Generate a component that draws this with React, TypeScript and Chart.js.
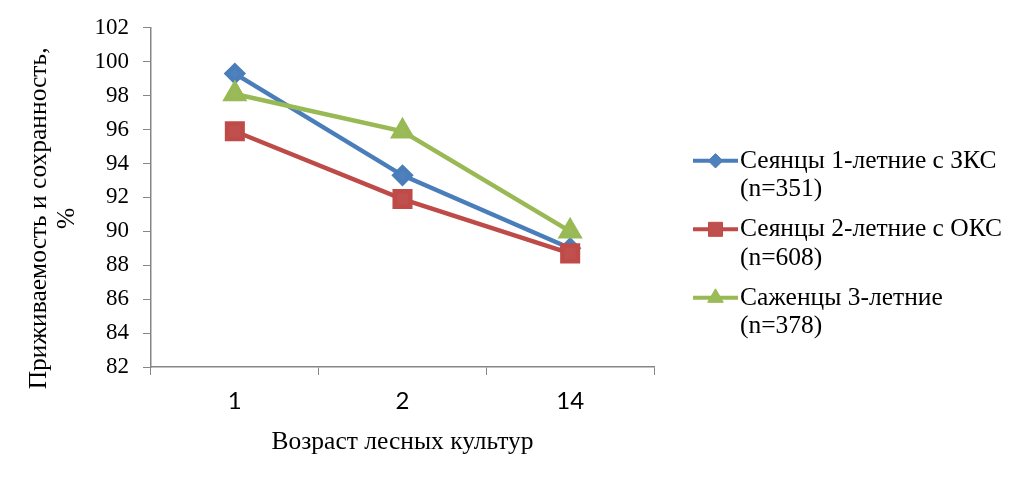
import React, { useEffect, useRef } from "react"
import { Chart, registerables } from "chart.js"
import { drawPoint } from "chart.js/helpers"
import type { Plugin } from "chart.js"

Chart.register(...registerables)

// возраст лесных культур, лет
const ages = ["1", "2", "14"]
// приживаемость и сохранность, %
const seedlings1yClosed = [99.3, 93.3, 89.0]
const seedlings2yOpen = [95.9, 91.9, 88.7]
const saplings3y = [98.1, 95.9, 90.0]

const seriesLabels = [
  ["Сеянцы 1-летние с ЗКС", "(n=351)"],
  ["Сеянцы 2-летние с ОКС", "(n=608)"],
  ["Саженцы 3-летние", "(n=378)"],
]
const yTitle = ["Приживаемость и сохранность,", "%"]
const xTitle = "Возраст лесных культур"

const serif = "'Liberation Serif', 'Times New Roman', serif"
const sans = "Lato, 'Liberation Sans', sans-serif"
const axisGray = "#868686"

// y-axis title sits lower than the plot centre in the original, so it is drawn by hand
const yAxisTitle: Plugin<"line"> = {
  id: "yAxisTitle",
  afterDraw(chart) {
    const { ctx, chartArea } = chart
    const cy = (chartArea.top + chartArea.bottom) / 2 + 21
    ctx.save()
    ctx.fillStyle = "#000"
    ctx.font = `25.5px ${serif}`
    ctx.textAlign = "center"
    ctx.textBaseline = "middle"
    yTitle.forEach((t, i) => {
      ctx.save()
      ctx.translate(chartArea.left - 112 + i * 28, cy)
      ctx.rotate(-Math.PI / 2)
      ctx.fillText(t, 0, 0)
      ctx.restore()
    })
    ctx.restore()
  },
}

const sideLegend: Plugin<"line"> = {
  id: "sideLegend",
  afterDraw(chart) {
    const { ctx, chartArea } = chart
    const x0 = chartArea.right + 39
    const firstRow = chartArea.top + 133
    ctx.save()
    chart.data.datasets.forEach((ds: any, i) => {
      const y = firstRow + i * 68.5
      ctx.strokeStyle = ds.borderColor
      ctx.lineWidth = 4
      ctx.beginPath()
      ctx.moveTo(x0, y)
      ctx.lineTo(x0 + 45, y)
      ctx.stroke()
      ctx.fillStyle = ds.pointBackgroundColor
      ctx.strokeStyle = ds.pointBorderColor
      ctx.lineWidth = 1
      drawPoint(ctx, { pointStyle: ds.pointStyle, rotation: 0, radius: ds.pointRadius * 0.9, borderWidth: 1 }, x0 + 22.5, y)
      ctx.fillStyle = "#000"
      ctx.font = `25.5px ${serif}`
      ctx.textAlign = "left"
      ctx.textBaseline = "middle"
      const lines = seriesLabels[i]
      lines.forEach((t, j) => ctx.fillText(t, x0 + 47, y + j * 28.5))
    })
    ctx.restore()
  },
}

export default function App() {
  const canvasRef = useRef<HTMLCanvasElement>(null)

  useEffect(() => {
    if (!canvasRef.current) return
    const chart = new Chart(canvasRef.current, {
      type: "line",
      data: {
        labels: ages,
        datasets: [
          {
            label: seriesLabels[0].join(" "),
            data: seedlings1yClosed,
            borderColor: "#4A7EBB",
            backgroundColor: "#4F81BD",
            pointBackgroundColor: "#4F81BD",
            pointBorderColor: "#4A7EBB",
            pointStyle: "rectRot",
            pointRadius: 8,
            borderWidth: 4.5,
            order: 3,
          },
          {
            label: seriesLabels[1].join(" "),
            data: seedlings2yOpen,
            borderColor: "#BE4B48",
            backgroundColor: "#C0504D",
            pointBackgroundColor: "#C0504D",
            pointBorderColor: "#BE4B48",
            pointStyle: "rect",
            pointRadius: 11,
            borderWidth: 4.5,
            order: 2,
          },
          {
            label: seriesLabels[2].join(" "),
            data: saplings3y,
            borderColor: "#98B954",
            backgroundColor: "#9BBB59",
            pointBackgroundColor: "#9BBB59",
            pointBorderColor: "#98B954",
            pointStyle: "triangle",
            pointRadius: 10,
            borderWidth: 4.5,
            order: 1,
          },
        ] as any,
      },
      options: {
        responsive: false,
        animation: false,
        layout: { padding: { left: 27, right: 370, top: 25, bottom: 0 } },
        plugins: {
          legend: { display: false },
          tooltip: { enabled: false },
        },
        scales: {
          x: {
            offset: true,
            grid: {
              offset: true,
              drawOnChartArea: false,
              drawTicks: true,
              tickLength: 8,
              color: axisGray,
            },
            border: { color: axisGray, width: 1.5 },
            ticks: { color: "#000", font: { family: sans, size: 24 }, padding: 12 },
            title: {
              display: true,
              text: xTitle,
              color: "#000",
              font: { family: serif, size: 25.5 },
              padding: { top: 0, bottom: 19 },
            },
            afterFit(scale) {
              scale.height = 110
            },
          },
          y: {
            min: 82,
            max: 102,
            ticks: { stepSize: 2, color: "#000", font: { family: serif, size: 23 }, padding: 14 },
            grid: {
              drawOnChartArea: false,
              drawTicks: true,
              tickLength: 8,
              color: axisGray,
            },
            border: { color: axisGray, width: 1.5 },
            afterFit(scale) {
              scale.width = 124
            },
          },
        },
      },
      plugins: [yAxisTitle, sideLegend],
    })
    return () => chart.destroy()
  }, [])

  return (
    <div style={{ position: "fixed", left: 0, top: 0, width: 1024, height: 477, background: "#fff" }}>
      <canvas ref={canvasRef} width={1024} height={477} style={{ display: "block" }} />
    </div>
  )
}
